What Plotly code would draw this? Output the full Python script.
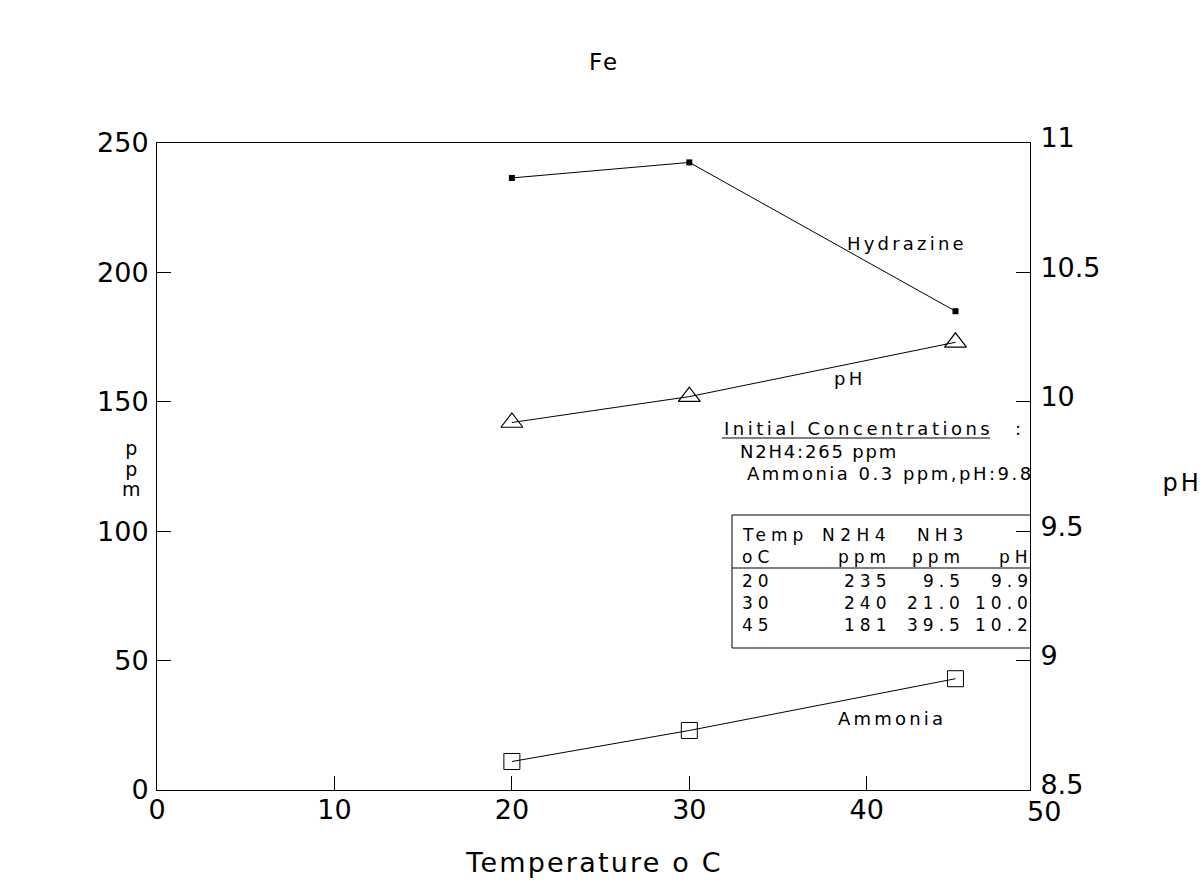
import json
import plotly.graph_objects as go

temps = [20, 30, 45]
hydrazine = [236.5, 242.5, 185]
ammonia = [11, 23, 43]
ph = [9.92, 10.02, 10.23]

x_ticks = [0, 10, 20, 30, 40]
x_last_tick = "50"
x_range = [0, 49.2]
y_ticks = [0, 50, 100, 150, 200, 250]
y2_ticks = [8.5, 9, 9.5, 10, 10.5, 11]

table_header1 = ["Temp", "N2H4", "NH3", ""]
table_header2 = ["oC", "ppm", "ppm", "pH"]
table_rows = [["20", "235", "9.5", "9.9"],
              ["30", "240", "21.0", "10.0"],
              ["45", "181", "39.5", "10.2"]]

# plot-area pixel geometry used to place the inset text
L, R, T, B = 157, 1030, 143, 790
def px(xp, yp):
    return (xp - L) / (R - L), (B - yp) / (B - T)

FONT = "DejaVu Sans, sans-serif"

fig = go.Figure()
fig.add_trace(go.Scatter(x=temps, y=hydrazine, mode="lines+markers",
                         line=dict(color="black", width=1),
                         marker=dict(symbol="square", size=6, color="black"),
                         showlegend=False))
fig.add_trace(go.Scatter(x=temps, y=ammonia, mode="lines+markers",
                         line=dict(color="black", width=1),
                         marker=dict(symbol="square-open", size=16, color="black",
                                     line=dict(width=1)),
                         showlegend=False))
fig.add_trace(go.Scatter(x=temps, y=ph, mode="lines+markers", yaxis="y2",
                         line=dict(color="black", width=1),
                         marker=dict(symbol="triangle-up-open", size=19, color="black",
                                     line=dict(width=1.2)),
                         showlegend=False))

annotations = []
specs = []
def txt(text, xp, yp, size=16, xanchor="left", ls=4.0, lh=0):
    x, y = px(xp, yp)
    annotations.append(dict(text=text, x=x, y=y, xref="paper", yref="paper",
                            xanchor=xanchor, yanchor="middle", showarrow=False,
                            align=xanchor,
                            font=dict(family=FONT, size=size, color="black")))
    specs.append([ls, xanchor, lh])

txt("Hydrazine", 845, 243, 18, "left", 3.2)
txt("pH", 832, 378, 18, "left", 3.2)
txt("Ammonia", 836, 718, 18, "left", 3.2)
txt("Initial Concentrations", 722, 428, 18, "left", 3.5)
txt(":", 1013, 428, 18, "left", 0)
txt("N2H4:265 ppm", 738, 451, 18, "left", 1.8)
txt("Ammonia 0.3 ppm,pH:9.8", 745, 474, 18, "left", 2.5)

# table text
TS, TLS = 17, 5.0
txt(table_header1[0], 740, 535, TS, "left", TLS)
txt(table_header1[1], 820, 535, TS, "left", TLS + 0.5)
txt(table_header1[2], 915, 535, TS, "left", TLS)
txt(table_header2[0], 740, 557, TS, "left", TLS)
txt(table_header2[1], 888, 557, TS, "right", TLS)
txt(table_header2[2], 962, 557, TS, "right", TLS)
txt(table_header2[3], 1030, 557, TS, "right", TLS)
for i, row in enumerate(table_rows):
    yp = 581 + i * 22
    txt(row[0], 740, yp, TS, "left", TLS)
    txt(row[1], 888, yp, TS, "right", TLS)
    txt(row[2], 962, yp, TS, "right", TLS)
    txt(row[3], 1030, yp, TS, "right", TLS)

# axis titles (stacked left title, right title) and the last x tick label
txt("p<br>p<br>m", 131, 468, 19, "center", 0, 1.08)
txt("pH", 1180, 483, 24, "center", 3)
txt(x_last_tick, 1044, 811, 27, "center", 0)

shapes = []
def seg(x0p, y0p, x1p, y1p):
    a = px(x0p, y0p); b = px(x1p, y1p)
    shapes.append(dict(type="line", xref="paper", yref="paper", x0=a[0], y0=a[1],
                       x1=b[0], y1=b[1], line=dict(color="black", width=1)))
seg(722, 438, 990, 438)
seg(732, 515, 1030, 515)
seg(732, 568, 1030, 568)
seg(732, 648, 1030, 648)
seg(732, 515, 732, 648)

fig.update_layout(
    width=1204, height=883,
    paper_bgcolor="white", plot_bgcolor="white",
    margin=dict(l=L, r=1204 - R, t=T, b=883 - B),
    title=dict(text="Fe", x=603 / 1204, xanchor="center", y=1 - 62 / 883, yanchor="middle",
               font=dict(family=FONT, size=23, color="black")),
    xaxis=dict(range=x_range, tickvals=x_ticks, ticks="inside", ticklen=14,
               tickcolor="black", showline=True, linecolor="black", linewidth=1,
               mirror=True, showgrid=False, zeroline=False, ticklabelstandoff=-4,
               tickfont=dict(family=FONT, size=27, color="black"),
               title=dict(text="Temperature o C", standoff=28,
                          font=dict(family=FONT, size=27, color="black"))),
    yaxis=dict(range=[0, 250], tickvals=y_ticks, ticks="inside", ticklen=14,
               tickcolor="black", showline=True, linecolor="black", linewidth=1,
               showgrid=False, zeroline=False, ticklabelstandoff=2,
               tickfont=dict(family=FONT, size=27, color="black")),
    yaxis2=dict(range=[8.5, 11], tickvals=y2_ticks, overlaying="y", side="right",
                ticks="inside", ticklen=14, tickcolor="black", showline=True,
                linecolor="black", linewidth=1, showgrid=False, zeroline=False,
                ticklabelstandoff=4, ticklabelshift=-5,
                tickfont=dict(family=FONT, size=27, color="black")),
    annotations=annotations,
    shapes=shapes,
)

post = """
document.body.style.margin = '0';
var gd = document.getElementById('{plot_id}');
var specs = SPECS;
function spaceText(t, ls, anchor, lh) {
  if (!t || (!ls && !lh)) return;
  var b0 = t.getBBox();
  if (ls) t.style.letterSpacing = ls + 'px';
  if (lh) {
    t.querySelectorAll('tspan.line').forEach(function(sp, k) {
      sp.setAttribute('dy', (k * lh) + 'em');
    });
  }
  var b1 = t.getBBox();
  var dx;
  if (anchor === 'left') dx = b0.x - b1.x;
  else if (anchor === 'right') dx = (b0.x + b0.width) - (b1.x + b1.width) + ls;
  else dx = (b0.x + b0.width / 2) - (b1.x + b1.width / 2) + ls / 2;
  var dy = (b0.y + b0.height / 2) - (b1.y + b1.height / 2);
  var tr = t.getAttribute('transform') || '';
  t.setAttribute('transform', 'translate(' + dx + ',' + dy + ') ' + tr);
}
gd.querySelectorAll('g.annotation').forEach(function(g) {
  var i = +g.getAttribute('data-index');
  var s = specs[i];
  if (!s) return;
  spaceText(g.querySelector('text.annotation-text'), s[0], s[1], s[2]);
});
spaceText(gd.querySelector('text.xtitle'), 2.2, 'center', 0);
spaceText(gd.querySelector('text.gtitle'), 2, 'center', 0);
""".replace("SPECS", json.dumps(specs))

fig.write_html("out.html", post_script=post, config={"displayModeBar": False})
